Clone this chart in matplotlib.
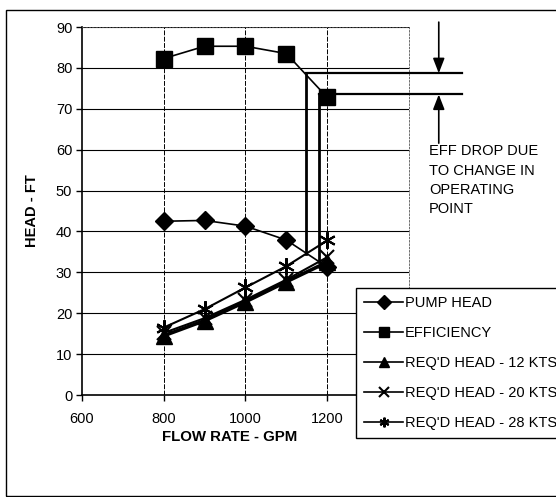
import matplotlib.pyplot as plt
from matplotlib.patches import Rectangle

plt.rcParams['font.family'] = ['Liberation Sans', 'DejaVu Sans']

# data
flow = [800, 900, 1000, 1100, 1200]
pump_head = [42.5, 42.7, 41.3, 37.9, 31.3]
efficiency = [82.3, 85.3, 85.3, 83.5, 72.8]
req_12 = [14.5, 18.2, 22.8, 27.7, 32.5]
req_20 = [15.2, 18.8, 23.3, 28.2, 33.7]
req_28 = [16.5, 21.0, 26.3, 31.5, 37.8]

x_ticks = [600, 800, 1000, 1200, 1400]
x_tick_labels = ['600', '800', '1000', '1200', '']  # 1400 sits under the legend
y_ticks = [0, 10, 20, 30, 40, 50, 60, 70, 80, 90]

# operating point markers (drop from original to new point)
op_flow = [1149, 1180]
op_eff = [78.7, 73.5]
op_head = [34.6, 32.6]
line_end = 1529
arrow_x = 1473

fig = plt.figure(figsize=(5.56, 4.97), dpi=100)
ax = fig.add_axes([0.1475, 0.2052, 0.588, 0.7404])

# outer frame
fig.patches.append(Rectangle((6 / 556, 1 / 497), 1.0, 486 / 497, transform=fig.transFigure,
                             fill=False, edgecolor='black', linewidth=1.0))

ax.set_xlim(600, 1400)
ax.set_ylim(0, 90)
ax.set_xticks(x_ticks)
ax.set_xticklabels(x_tick_labels)
ax.set_yticks(y_ticks)

for y in y_ticks[1:]:
    ax.axhline(y, color='black', linewidth=0.8, zorder=1)
for x in [800, 1000, 1200]:
    ax.axvline(x, color='black', linewidth=0.7, linestyle=(0, (5, 1.5)), zorder=1)

for s in ['top', 'right']:
    ax.spines[s].set_linestyle((0, (2, 2)))
    ax.spines[s].set_linewidth(0.6)
    ax.spines[s].set_color('#555555')
ax.spines['left'].set_linewidth(1.2)
ax.spines['bottom'].set_linewidth(1.2)

ax.tick_params(axis='y', direction='out', length=4, width=1, pad=3, labelsize=10.5)
ax.tick_params(axis='x', direction='out', length=4, width=1, pad=8, labelsize=10.5)

ax.plot(flow, pump_head, color='black', marker='D', markersize=9, linewidth=1.2,
        label='PUMP HEAD', zorder=3)
ax.plot(flow, efficiency, color='black', marker='s', markersize=12, linewidth=1.2,
        label='EFFICIENCY', zorder=3)
ax.plot(flow, req_12, color='black', marker='^', markersize=11, linewidth=2.6,
        label="REQ'D HEAD - 12 KTS", zorder=3)
ax.plot(flow, req_20, color='black', marker='x', markersize=10, markeredgewidth=1.5,
        linewidth=1.5, label="REQ'D HEAD - 20 KTS", zorder=3)
ax.plot(flow, req_28, color='black', marker=(6, 2, 0), markersize=12, markeredgewidth=1.5,
        linewidth=1.5, label="REQ'D HEAD - 28 KTS", zorder=3)

# vertical drop lines and horizontal level lines
for fx, fe, fh in zip(op_flow, op_eff, op_head):
    ax.plot([fx, fx], [fh, fe], color='black', linewidth=2.0, zorder=4)
    ax.plot([fx, line_end], [fe, fe], color='black', linewidth=1.6, zorder=4, clip_on=False)

ax.annotate('', xy=(arrow_x, op_eff[0]), xytext=(arrow_x, 91.2), annotation_clip=False,
            arrowprops=dict(arrowstyle='-|>,head_width=0.35,head_length=0.9',
                            color='black', linewidth=1.2, shrinkA=0, shrinkB=0))
ax.annotate('', xy=(arrow_x, op_eff[1]), xytext=(arrow_x, 61.6), annotation_clip=False,
            arrowprops=dict(arrowstyle='-|>,head_width=0.35,head_length=0.9',
                            color='black', linewidth=1.2, shrinkA=0, shrinkB=0))
ax.text(1449, 61.3, 'EFF DROP DUE\nTO CHANGE IN\nOPERATING\nPOINT', fontsize=10.5,
        va='top', ha='left', linespacing=1.48, clip_on=False)

ax.set_ylabel('HEAD - FT', fontsize=10.5, fontweight='bold', labelpad=12)
fig.text(230 / 556, 1 - 437 / 497, 'FLOW RATE - GPM', fontsize=10.8, fontweight='bold',
         ha='center', va='center')

leg = fig.legend(loc='upper left', bbox_to_anchor=(0.640, 0.4205), fontsize=10.5,
                 frameon=True, fancybox=False, edgecolor='black', framealpha=1,
                 handlelength=2.7, handletextpad=0.1, labelspacing=1.1,
                 borderpad=0.55, borderaxespad=0)
leg.get_frame().set_linewidth(1.0)
for h in leg.legend_handles:
    h.set_linewidth(1.2)
    h.set_markersize(7)

fig.savefig('out.png', dpi=100)
